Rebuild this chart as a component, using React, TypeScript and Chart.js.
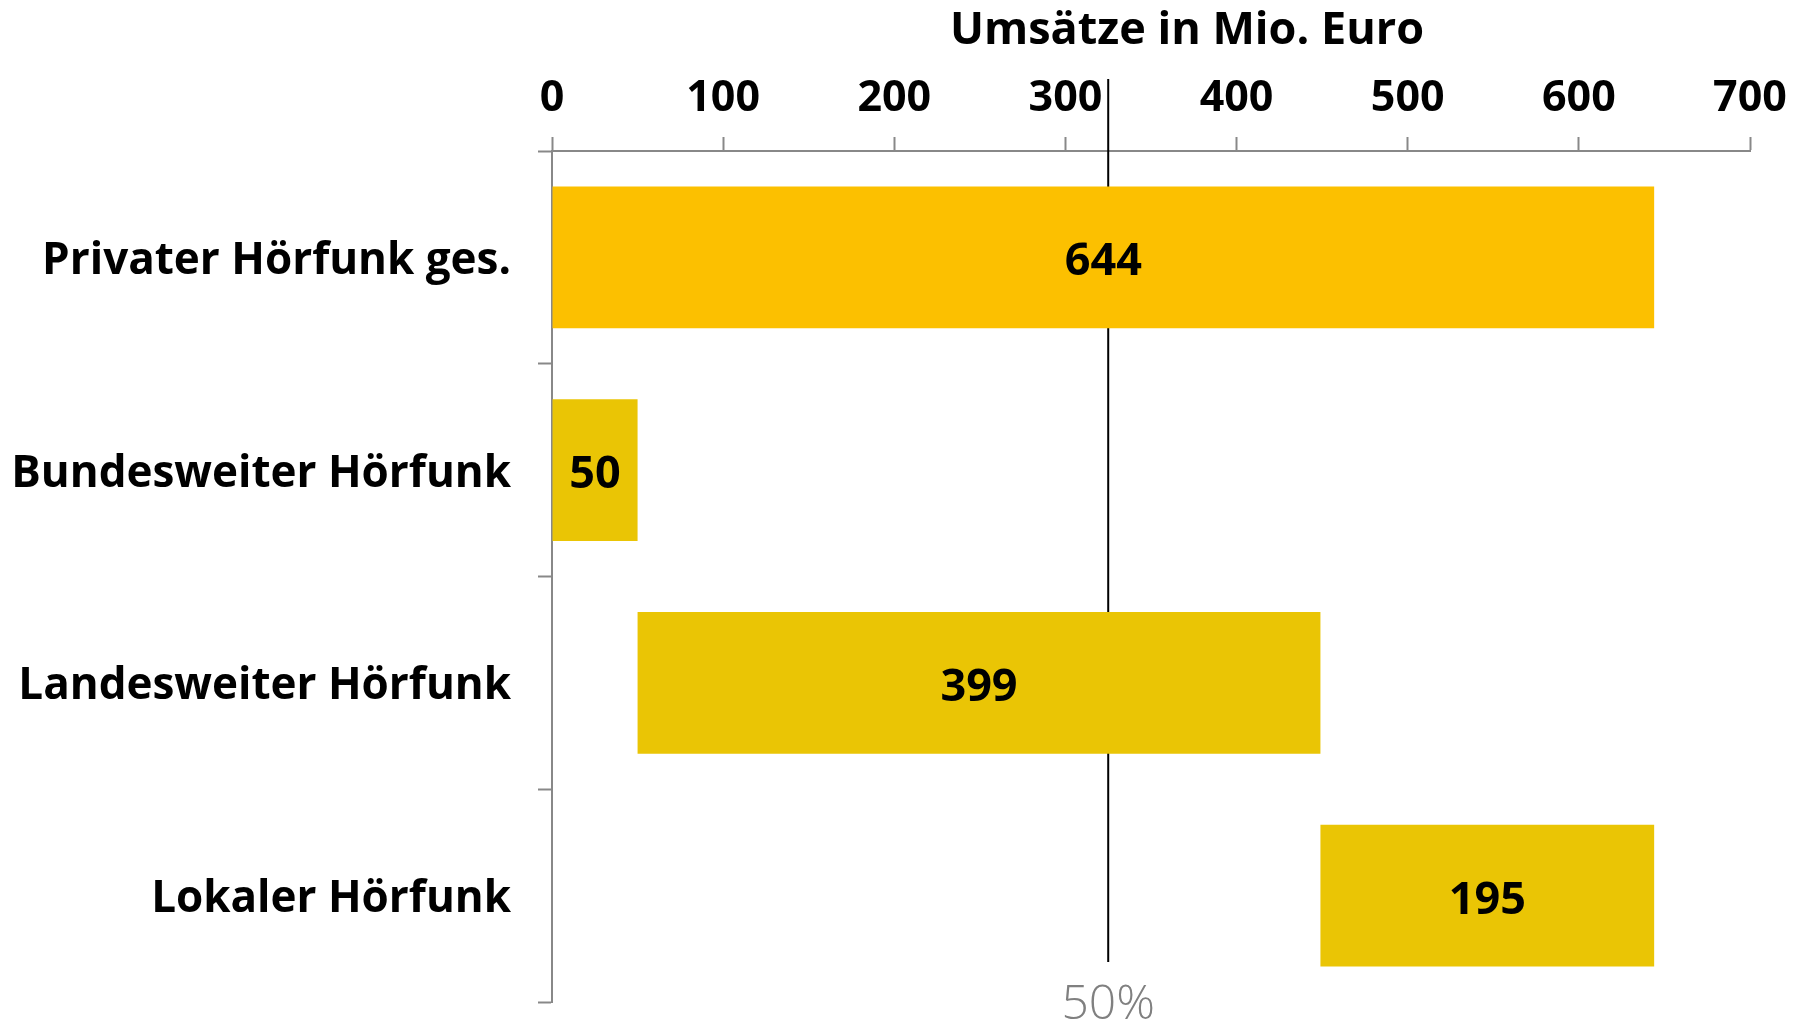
import React, { useEffect, useRef } from "react";
import { Chart, registerables } from "chart.js";

Chart.register(...registerables);

const categories = [
  "Privater Hörfunk ges.",
  "Bundesweiter Hörfunk",
  "Landesweiter Hörfunk",
  "Lokaler Hörfunk",
];
const values = [644, 50, 399, 195];
const isTotal = [true, false, false, false];
const xTicks = [0, 100, 200, 300, 400, 500, 600, 700];
const fiftyPercentValue = 325;
const fiftyPercentLabel = "50%";
const axisTitle = "Umsätze in Mio. Euro";
const totalColor = "#FCC000";
const partColor = "#EAC505";

const FONT = "'Open Sans', 'Noto Sans', sans-serif";
const W = 1808;
const H = 1019;

export default function App() {
  const ref = useRef<HTMLCanvasElement | null>(null);

  useEffect(() => {
    if (!ref.current) return;

    // waterfall: totals start from 0, parts stack cumulatively
    let running = 0;
    const floating = values.map((v, i) => {
      if (isTotal[i]) return [0, v];
      const seg = [running, running + v];
      running += v;
      return seg;
    });

    const valueLabels = {
      id: "valueLabels",
      afterDatasetsDraw(chart: any) {
        const ctx = chart.ctx;
        const meta = chart.getDatasetMeta(0);
        ctx.save();
        ctx.font = `bold 45px ${FONT}`;
        ctx.fillStyle = "#000";
        ctx.textAlign = "center";
        ctx.textBaseline = "alphabetic";
        meta.data.forEach((bar: any, i: number) => {
          const p = bar.getProps(["x", "y", "base"], true);
          const cx = (p.x + p.base) / 2;
          ctx.fillText(String(values[i]), cx, p.y + 18);
        });
        ctx.restore();
      },
    };

    const fiftyLine = {
      id: "fiftyLine",
      beforeDatasetsDraw(chart: any) {
        const ctx = chart.ctx;
        const xs = chart.scales.x;
        const area = chart.chartArea;
        const px = xs.getPixelForValue(fiftyPercentValue);
        ctx.save();
        ctx.strokeStyle = "#000";
        ctx.lineWidth = 2;
        ctx.beginPath();
        ctx.moveTo(px, area.top - 72);
        ctx.lineTo(px, area.bottom - 40);
        ctx.stroke();
        ctx.restore();
      },
      afterDraw(chart: any) {
        const ctx = chart.ctx;
        const xs = chart.scales.x;
        const area = chart.chartArea;
        const px = xs.getPixelForValue(fiftyPercentValue);
        ctx.save();
        ctx.font = `300 48px ${FONT}`;
        ctx.fillStyle = "#808080";
        ctx.textAlign = "center";
        ctx.textBaseline = "alphabetic";
        ctx.fillText(fiftyPercentLabel, px, area.bottom + 17);
        ctx.restore();
      },
    };

    const titlePlugin = {
      id: "axisTitleTop",
      afterDraw(chart: any) {
        const ctx = chart.ctx;
        const area = chart.chartArea;
        ctx.save();
        ctx.font = `bold 45px ${FONT}`;
        ctx.fillStyle = "#000";
        ctx.textAlign = "center";
        ctx.textBaseline = "alphabetic";
        ctx.fillText(axisTitle, (area.left + area.right) / 2 + 36, 44);
        ctx.restore();
      },
    };

    const chart = new Chart(ref.current, {
      type: "bar",
      data: {
        labels: categories,
        datasets: [
          {
            data: floating as any,
            backgroundColor: values.map((_, i) => (isTotal[i] ? totalColor : partColor)),
            borderWidth: 0,
            borderSkipped: false,
            categoryPercentage: 1,
            barPercentage: 0.667,
          },
        ],
      },
      options: {
        indexAxis: "y",
        animation: false,
        responsive: false,
        devicePixelRatio: 1,
        layout: { padding: { left: 0, right: 58, top: 0, bottom: 17 } },
        plugins: {
          legend: { display: false },
          tooltip: { enabled: false },
          title: { display: false },
        },
        scales: {
          x: {
            position: "top",
            min: 0,
            max: 700,
            afterBuildTicks(scale: any) {
              scale.ticks = xTicks.map((v) => ({ value: v }));
            },
            afterFit(scale: any) {
              scale.height = 151;
              scale.paddingLeft = 0;
              scale.paddingRight = 0;
            },
            grid: {
              drawOnChartArea: false,
              drawTicks: true,
              tickLength: 14,
              tickWidth: 2,
              tickColor: "#888888",
            },
            border: { display: true, color: "#888888", width: 2 },
            ticks: {
              color: "#000",
              padding: 12,
              maxRotation: 0,
              font: { family: FONT, size: 43, weight: "bold", lineHeight: 1.2 },
            },
          },
          y: {
            position: "left",
            afterFit(scale: any) {
              scale.width = 552;
              scale.paddingTop = 0;
              scale.paddingBottom = 0;
            },
            grid: {
              offset: true,
              drawOnChartArea: false,
              drawTicks: true,
              tickLength: 14,
              tickWidth: 2,
              tickColor: "#888888",
            },
            border: { display: true, color: "#888888", width: 2 },
            ticks: {
              color: "#000",
              padding: 27,
              labelOffset: 4,
              font: { family: FONT, size: 44, weight: "bold" },
            },
          },
        },
      },
      plugins: [fiftyLine, valueLabels, titlePlugin],
    });

    return () => chart.destroy();
  }, []);

  return (
    <div style={{ position: "absolute", left: 0, top: 0, width: W, height: H, background: "#fff" }}>
      <canvas ref={ref} width={W} height={H} style={{ display: "block", width: W, height: H }} />
    </div>
  );
}
